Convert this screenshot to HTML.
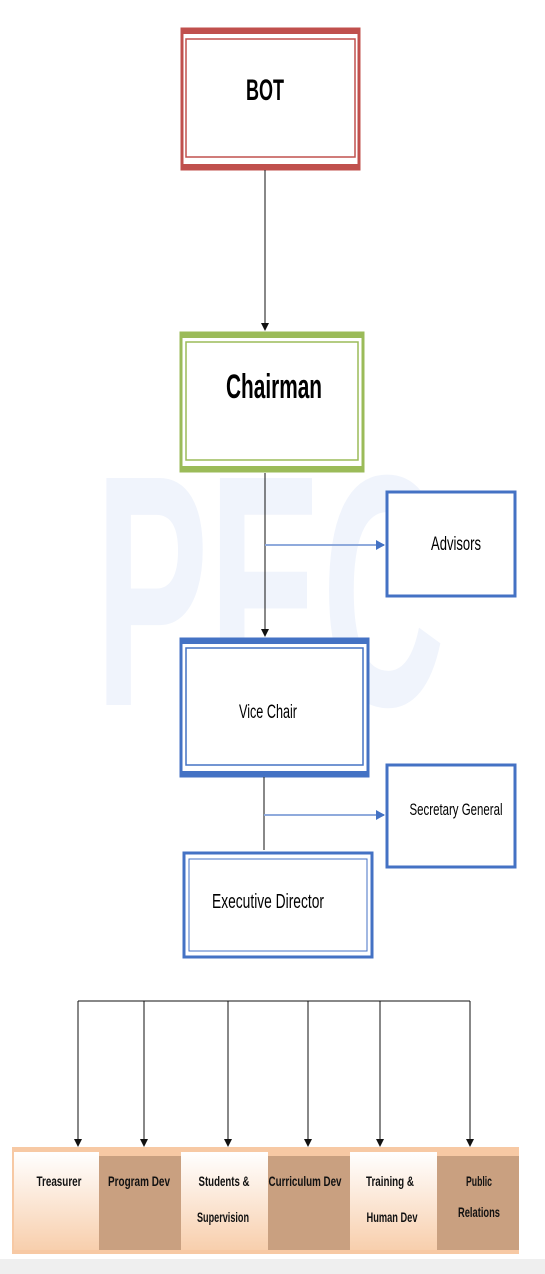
<!DOCTYPE html>
<html><head><style>
body{margin:0;width:545px;height:1274px;background:#fff;overflow:hidden;font-family:"Liberation Sans",sans-serif}
</style></head><body>
<svg width="545" height="1274" xmlns="http://www.w3.org/2000/svg" style="position:absolute;left:0;top:0">
<defs>
<marker id="a" markerWidth="8" markerHeight="8" refX="7" refY="4" orient="auto" markerUnits="userSpaceOnUse"><path d="M0,0 L8,4 L0,8z" fill="#111"/></marker>
<marker id="b" markerWidth="9" markerHeight="10" refX="8" refY="5" orient="auto" markerUnits="userSpaceOnUse"><path d="M0,0 L9,5 L0,10z" fill="#4472c4"/></marker>
<linearGradient id="w" x1="0" y1="0" x2="0" y2="1"><stop offset="0" stop-color="#fff"/><stop offset="1" stop-color="#f8cfad"/></linearGradient>
</defs>
<text x="95" y="705" font-size="330" font-weight="bold" fill="#f0f4fc" textLength="350" lengthAdjust="spacingAndGlyphs">PEC</text>
<!-- BOT -->
<rect x="182" y="29" width="177" height="140" fill="#fff" stroke="#c0504d" stroke-width="3"/>
<rect x="182" y="28" width="177" height="6" fill="#c0504d"/>
<rect x="182" y="164" width="177" height="6" fill="#c0504d"/>
<rect x="186" y="39" width="169" height="118" fill="none" stroke="#c0504d" stroke-width="1.5"/>
<text x="265" y="100" font-size="30" font-weight="bold" text-anchor="middle" textLength="38" lengthAdjust="spacingAndGlyphs">BOT</text>
<line x1="265" y1="170" x2="265" y2="330" stroke="#111" stroke-width="1" marker-end="url(#a)"/>
<!-- Chairman -->
<rect x="181" y="333" width="182" height="138" fill="#fff" stroke="#9bbb59" stroke-width="3"/>
<rect x="181" y="332" width="182" height="6" fill="#9bbb59"/>
<rect x="181" y="466" width="182" height="6" fill="#9bbb59"/>
<rect x="186" y="342" width="172" height="118" fill="none" stroke="#9bbb59" stroke-width="1.5"/>
<text x="274" y="398" font-size="34" font-weight="bold" text-anchor="middle" textLength="96" lengthAdjust="spacingAndGlyphs">Chairman</text>
<line x1="265" y1="473" x2="265" y2="636" stroke="#111" stroke-width="1" marker-end="url(#a)"/>
<line x1="265" y1="545" x2="384" y2="545" stroke="#8faadc" stroke-width="2" marker-end="url(#b)"/>
<!-- Advisors -->
<rect x="387" y="492" width="128" height="104" fill="#fff" stroke="#4472c4" stroke-width="3"/>
<text x="456" y="550" font-size="19" text-anchor="middle" textLength="50" lengthAdjust="spacingAndGlyphs">Advisors</text>
<!-- Vice Chair -->
<rect x="181" y="639" width="187" height="137" fill="#fff" stroke="#4472c4" stroke-width="3"/>
<rect x="181" y="638" width="187" height="6" fill="#4472c4"/>
<rect x="181" y="771" width="187" height="6" fill="#4472c4"/>
<rect x="186" y="648" width="177" height="117" fill="none" stroke="#4472c4" stroke-width="1.5"/>
<text x="268" y="718" font-size="19" text-anchor="middle" textLength="58" lengthAdjust="spacingAndGlyphs">Vice Chair</text>
<line x1="264" y1="777" x2="264" y2="850" stroke="#111" stroke-width="1"/>
<line x1="264" y1="815" x2="384" y2="815" stroke="#8faadc" stroke-width="2" marker-end="url(#b)"/>
<!-- Secretary -->
<rect x="387" y="765" width="128" height="102" fill="#fff" stroke="#4472c4" stroke-width="3"/>
<text x="456" y="815" font-size="17" text-anchor="middle" textLength="93" lengthAdjust="spacingAndGlyphs">Secretary General</text>
<!-- Exec -->
<rect x="184" y="853" width="188" height="104" fill="#fff" stroke="#4472c4" stroke-width="3"/>
<rect x="189" y="859" width="178" height="92" fill="none" stroke="#4472c4" stroke-width="1"/>
<text x="268" y="908" font-size="20" text-anchor="middle" textLength="112" lengthAdjust="spacingAndGlyphs">Executive Director</text>
<!-- bus -->
<line x1="78" y1="1001" x2="470" y2="1001" stroke="#111" stroke-width="1"/>
<g stroke="#111" stroke-width="1">
<line x1="78" y1="1001" x2="78" y2="1146" marker-end="url(#a)"/>
<line x1="144" y1="1001" x2="144" y2="1146" marker-end="url(#a)"/>
<line x1="228" y1="1001" x2="228" y2="1146" marker-end="url(#a)"/>
<line x1="308" y1="1001" x2="308" y2="1146" marker-end="url(#a)"/>
<line x1="380" y1="1001" x2="380" y2="1146" marker-end="url(#a)"/>
<line x1="470" y1="1001" x2="470" y2="1146" marker-end="url(#a)"/>
</g>
<!-- bottom band -->
<rect x="12" y="1147" width="507" height="107" fill="#f7c9a4"/>
<rect x="14" y="1152" width="85" height="98" fill="url(#w)"/>
<rect x="181" y="1152" width="87" height="98" fill="url(#w)"/>
<rect x="350" y="1152" width="87" height="98" fill="url(#w)"/>
<rect x="99" y="1156" width="82" height="94" fill="#c9a080"/>
<rect x="268" y="1156" width="82" height="94" fill="#c9a080"/>
<rect x="437" y="1156" width="82" height="94" fill="#c9a080"/>
<rect x="0" y="1259" width="545" height="15" fill="#efefef"/>
<g font-size="14" font-weight="bold" text-anchor="middle" fill="#111">
<text x="59" y="1186" textLength="45" lengthAdjust="spacingAndGlyphs">Treasurer</text>
<text x="139" y="1186" textLength="62" lengthAdjust="spacingAndGlyphs">Program Dev</text>
<text x="224" y="1186" textLength="51" lengthAdjust="spacingAndGlyphs">Students &amp;</text>
<text x="223" y="1222" textLength="52" lengthAdjust="spacingAndGlyphs">Supervision</text>
<text x="305" y="1186" textLength="73" lengthAdjust="spacingAndGlyphs">Curriculum Dev</text>
<text x="390" y="1186" textLength="48" lengthAdjust="spacingAndGlyphs">Training &amp;</text>
<text x="392" y="1222" textLength="51" lengthAdjust="spacingAndGlyphs">Human Dev</text>
<text x="479" y="1186" textLength="26" lengthAdjust="spacingAndGlyphs">Public</text>
<text x="479" y="1217" textLength="42" lengthAdjust="spacingAndGlyphs">Relations</text>
</g>
</svg>
</body></html>
